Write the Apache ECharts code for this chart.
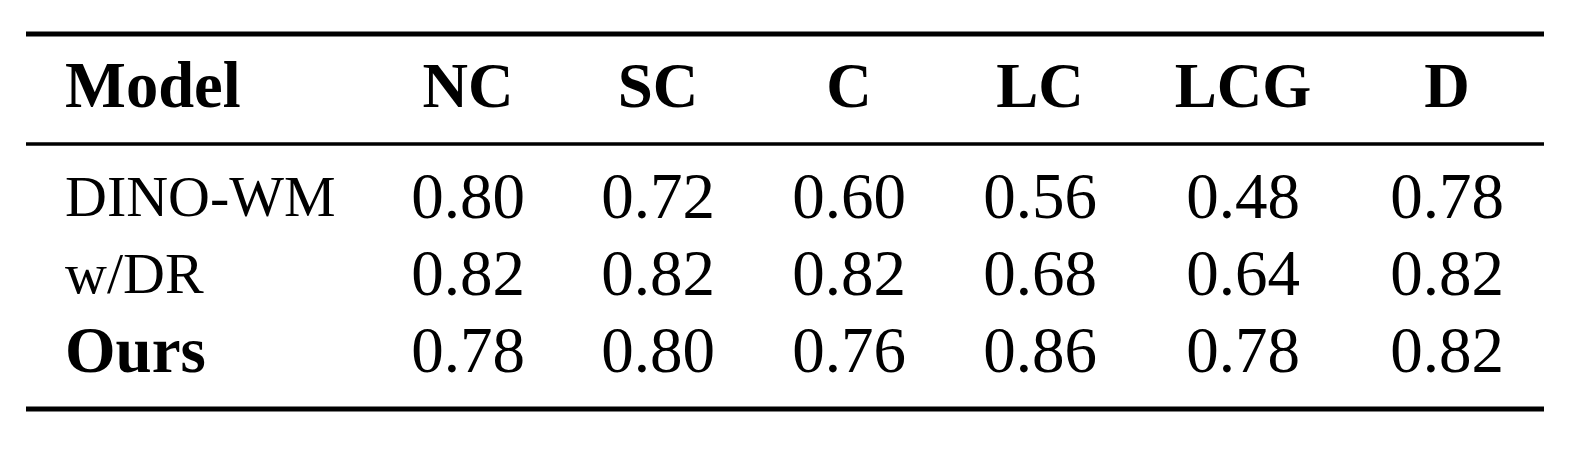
<!DOCTYPE html>
<html>
<head>
<meta charset="utf-8">
<script src="https://cdn.jsdelivr.net/npm/echarts@6/dist/echarts.min.js"></script>
<style>
html,body{margin:0;padding:0;background:#fff;}
#chart{width:1581px;height:450px;}
</style>
</head>
<body>
<div id="chart"></div>
<script>
// ---- data ----
const columns = ['NC', 'SC', 'C', 'LC', 'LCG', 'D'];
const models = ['DINO-WM', 'w/DR', 'Ours'];
const dinoWM = [0.80, 0.72, 0.60, 0.56, 0.48, 0.78];
const wDR = [0.82, 0.82, 0.82, 0.68, 0.64, 0.82];
const ours = [0.78, 0.80, 0.76, 0.86, 0.78, 0.82];
const headerLabel = 'Model';

// ---- layout ----
const FONT = "'Liberation Serif', 'Times New Roman', serif";
const colCenter = [468, 658, 849, 1040, 1243, 1447];
const colWidth = 180;
const bodyTop = 162, bodyHeight = 232;
const labelX = 65;
const ruleLeft = 26, ruleRight = 1544;
const rules = [{y: 34, w: 5}, {y: 144, w: 3.5}, {y: 409, w: 5}];

const rows = [dinoWM, wDR, ours];
const chart = echarts.init(document.getElementById('chart'), null, {renderer: 'canvas'});

const grids = [], xAxes = [], yAxes = [], series = [];
columns.forEach((col, j) => {
  const left = colCenter[j] - colWidth / 2;
  grids.push({left: left, top: bodyTop, width: colWidth, height: bodyHeight,
    containLabel: false, outerBoundsMode: 'none'});
  xAxes.push({
    type: 'category', gridIndex: j, position: 'top', data: [col],
    axisLine: {show: false}, axisTick: {show: false}, splitLine: {show: false},
    axisLabel: {show: true, margin: 40, fontFamily: FONT, fontWeight: 'bold', fontSize: 63, color: '#000'}
  });
  yAxes.push({
    type: 'category', gridIndex: j, inverse: true,
    data: models.map(m => m === 'Ours'
      ? {value: m, textStyle: {fontWeight: 'bold', fontSize: 65, align: 'left', fontFamily: FONT, color: '#000'}}
      : m),
    axisLine: {show: false}, axisTick: {show: false}, splitLine: {show: false},
    axisLabel: {show: j === 0, align: 'left', margin: left - labelX, fontFamily: FONT, fontSize: 58, color: '#000'}
  });
  series.push({
    type: 'scatter', xAxisIndex: j, yAxisIndex: j, symbolSize: 0, silent: true,
    itemStyle: {opacity: 1},
    data: models.map((m, i) => [0, i, rows[i][j]]),
    label: {show: true, position: 'inside', formatter: p => p.value[2].toFixed(2),
      fontFamily: FONT, fontSize: 65, color: '#000', opacity: 1, textBorderWidth: 0}
  });
});

const graphic = rules.map(r => ({
  type: 'rect', shape: {x: ruleLeft, y: r.y - r.w / 2, width: ruleRight - ruleLeft, height: r.w},
  style: {fill: '#000'}, silent: true
}));
graphic.push({
  type: 'text', left: labelX, top: 58,
  style: {text: headerLabel, font: "bold 64.5px " + FONT, fill: '#000'}
});

chart.setOption({
  animation: false,
  backgroundColor: '#fff',
  grid: grids, xAxis: xAxes, yAxis: yAxes, series: series,
  graphic: graphic
});
</script>
</body>
</html>
